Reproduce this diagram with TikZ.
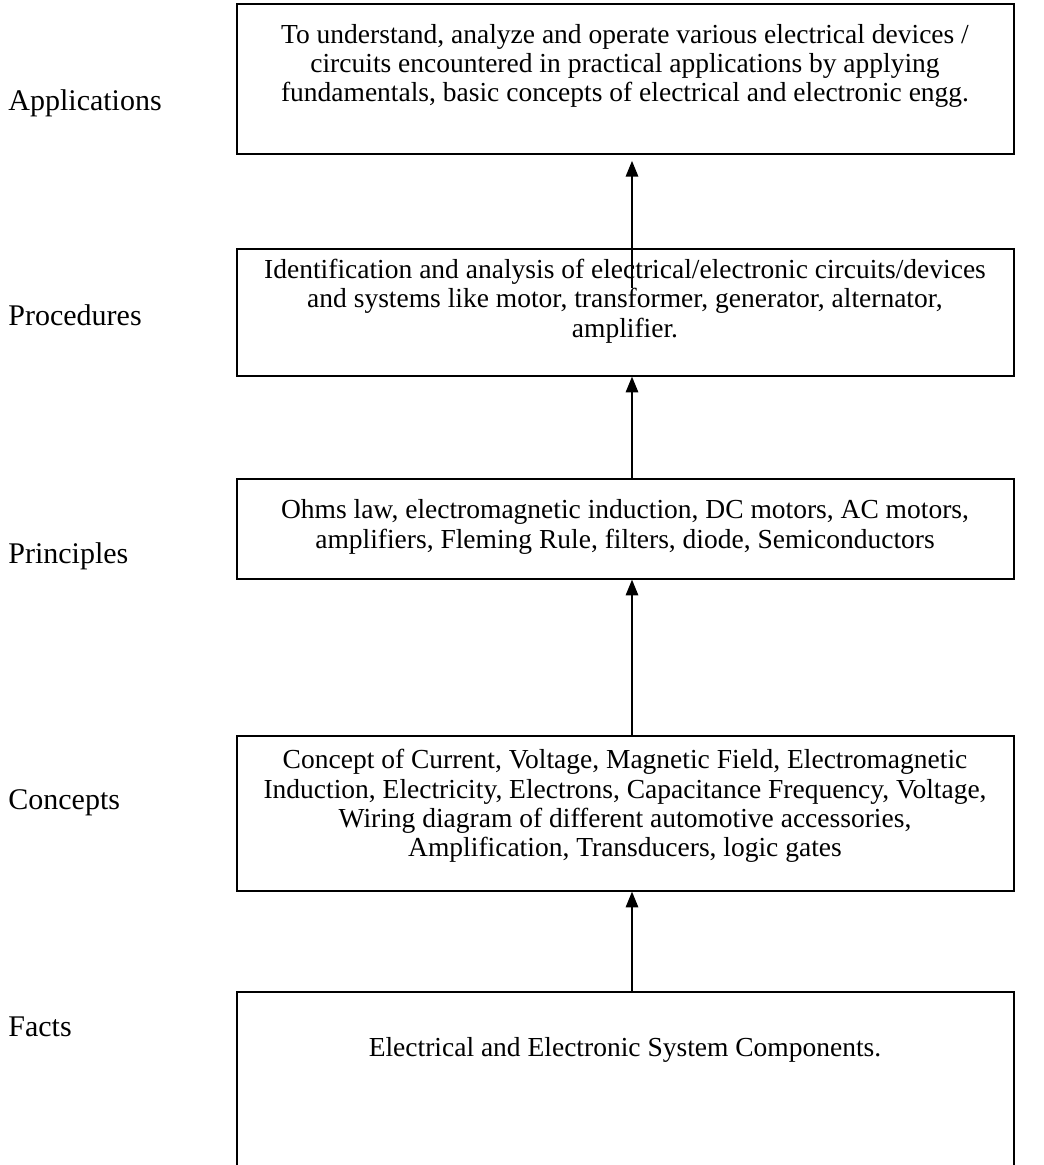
\documentclass[tikz,border=0pt]{standalone}
\usepackage{fontspec}
\setmainfont{Liberation Serif}
\usetikzlibrary{arrows.meta}
\begin{document}
\begin{tikzpicture}[x=0.48pt,y=-0.48pt,
  every node/.style={font=\fontsize{13.2pt}{14.1pt}\selectfont},
  box/.style={draw,line width=0.8pt,anchor=north west,inner sep=0pt,minimum width=372.96pt},
  txt/.style={align=center,inner sep=0pt},
  lbl/.style={anchor=west,inner sep=0pt,font=\fontsize{14.4pt}{16pt}\selectfont},
  arr/.style={-{Triangle[width=6pt,length=7.5pt]},line width=0.6pt}]
\useasboundingbox (0,0) rectangle (1043,1165);
\clip (0,0) rectangle (1043,1165);
% boxes
\node[box,minimum height=72pt] (app) at (236,3) {};
\node[box,minimum height=60.96pt] (proc) at (236,248) {};
\node[box,minimum height=48pt] (prin) at (236,478) {};
\node[box,minimum height=74.4pt] (conc) at (236,735) {};
\node[box,minimum height=96pt] (fact) at (236,991) {};
% texts
\node[txt] (appt) at (625,66) {To understand, analyze and operate various electrical devices /\\circuits encountered in practical applications by applying\\fundamentals, basic concepts of electrical and electronic engg.};
\node[txt] (proct) at (625,301) {Identification and analysis of electrical/electronic circuits/devices\\and systems like motor, transformer, generator, alternator,\\amplifier.};
\node[txt] (print) at (625,527) {Ohms law, electromagnetic induction, DC motors, AC motors,\\amplifiers, Fleming Rule, filters, diode, Semiconductors};
\node[txt] (conct) at (625,806) {Concept of Current, Voltage, Magnetic Field, Electromagnetic\\Induction, Electricity, Electrons, Capacitance Frequency, Voltage,\\Wiring diagram of different automotive accessories,\\Amplification, Transducers, logic gates};
\node[txt] (factt) at (625,1050) {Electrical and Electronic System Components.};
% labels
\node[lbl] (l1) at (8,103) {Applications};
\node[lbl] (l2) at (8,315) {Procedures};
\node[lbl] (l3) at (8,556) {Principles};
\node[lbl] (l4) at (8,803) {Concepts};
\node[lbl] (l5) at (8,1027) {Facts};
% arrows
\coordinate (a1s) at (632,288);
\draw[arr,shorten >=3pt] (a1s) -- (a1s |- app.south);
\draw[arr] (prin.north -| a1s) -- (proc.south -| a1s);
\draw[arr] (conc.north -| a1s) -- (prin.south -| a1s);
\draw[arr] (fact.north -| a1s) -- (conc.south -| a1s);
\end{tikzpicture}
\end{document}
